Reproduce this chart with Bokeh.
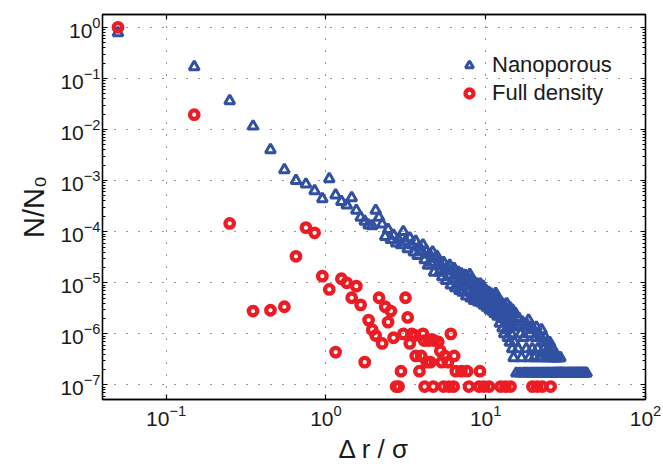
from bokeh.plotting import figure
from bokeh.models import LogAxis, FixedTicker, Legend, LegendItem, Range1d, ColumnDataSource
from bokeh.embed import file_html
from bokeh.resources import INLINE

FONT = "Liberation Sans"
BLUE = "#3150a2"
RED = "#ec1c24"
TXT = "#1a1a1a"

# ---- data ----
x_ticks = [0.1, 1, 10, 100]
y_ticks = [1e-7, 1e-6, 1e-5, 1e-4, 1e-3, 1e-2, 1e-1, 1]

nano_x = [0.05, 0.15, 0.25, 0.35, 0.45, 0.55, 0.65, 0.75, 0.85, 0.95,
          1.05, 1.15, 1.25, 1.35, 1.45, 1.55, 1.65, 1.75, 1.85, 1.95,
          2.05, 2.15, 2.25, 2.35, 2.45, 2.55, 2.65, 2.75, 2.85, 2.95,
          3.05, 3.15, 3.25, 3.35, 3.45, 3.55, 3.65, 3.75, 3.85, 3.95,
          4.05, 4.15, 4.25, 4.35, 4.45, 4.55, 4.65, 4.75, 4.85, 4.95,
          5.05, 5.15, 5.25, 5.35, 5.45, 5.55, 5.65, 5.75, 5.85, 5.95,
          6.05, 6.15, 6.25, 6.35, 6.45, 6.55, 6.65, 6.75, 6.85, 6.95,
          7.05, 7.15, 7.25, 7.35, 7.45, 7.55, 7.65, 7.75, 7.85, 7.95,
          8.05, 8.15, 8.25, 8.35, 8.45, 8.55, 8.65, 8.75, 8.85, 8.95,
          9.05, 9.15, 9.25, 9.35, 9.45, 9.55, 9.65, 9.75, 9.85, 9.95,
          10.05, 10.15, 10.25, 10.35, 10.45, 10.55, 10.65, 10.75, 10.85, 10.95,
          11.05, 11.15, 11.25, 11.35, 11.45, 11.55, 11.65, 11.75, 11.85, 11.95,
          12.05, 12.15, 12.25, 12.35, 12.45, 12.55, 12.65, 12.75, 12.85, 12.95,
          13.05, 13.15, 13.25, 13.35, 13.45, 13.55, 13.65, 13.75, 13.85, 13.95,
          14.05, 14.15, 14.25, 14.35, 14.45, 14.55, 14.65, 14.75, 14.85, 14.95,
          15.15, 15.35, 15.55, 15.75, 15.95, 16.15, 16.35, 16.55, 16.75, 16.95,
          17.15, 17.35, 17.55, 17.75, 17.95, 18.15, 18.35, 18.55, 18.75, 18.95,
          19.15, 19.35, 19.55, 19.75, 19.95, 20.15, 20.35, 20.55, 20.75, 20.95,
          21.15, 21.35, 21.55, 21.75, 21.95, 22.15, 22.35, 22.55, 22.75, 22.95,
          23.15, 23.35, 23.55, 23.75, 23.95, 24.15, 24.35, 24.55, 24.75, 24.95,
          25.15, 25.35, 25.55, 25.75, 25.95, 26.15, 26.35, 26.55, 26.75, 26.95,
          27.15, 27.35, 27.55, 27.75, 27.95, 28.15, 28.35, 28.55, 28.75, 28.95,
          29.15, 29.35, 29.55, 29.75, 29.95,
          30.3, 30.8, 31.3, 31.8, 32.3, 32.8, 33.3, 33.8, 34.3, 34.8,
          35.3, 35.8, 36.3, 36.8, 37.3, 37.8, 38.3, 38.8, 39.3, 39.8,
          40.3, 40.8, 41.3, 41.8, 42.3, 42.8]
nano_y = [0.78, 0.168, 0.0365, 0.0116, 0.0040, 0.00163, 0.00100, 8.5e-4, 6.3e-4, 4.4e-4,
          1.08e-3, 5.2e-4, 3.9e-4, 3.3e-4, 4.6e-4, 2.6e-4, 1.9e-4, 1.6e-4, 1.35e-4, 1.3e-4,
          2.6e-4, 1.9e-4, 1.4e-4, 8.0e-5, 1.1e-4, 7.0e-5, 8.5e-5, 6.0e-5, 6.9e-5, 5.5e-5,
          1.0e-4, 6.5e-5, 4.6e-5, 7.5e-5, 5.5e-5, 4.0e-5, 6.5e-5, 3.4e-5, 5.0e-5, 4.2e-5,
          5.5e-5, 2.8e-5, 4.2e-5, 2.2e-5, 3.6e-5, 2.5e-5, 4.0e-5, 1.6e-5, 3.0e-5, 3.3e-5,
          2.9e-5, 1.6e-5, 2.2e-5, 1.3e-5, 2.5e-5, 1.8e-5, 1.1e-5, 2.0e-5, 1.4e-5, 2.2e-5,
          9.0e-6, 1.7e-5, 1.2e-5, 1.9e-5, 8.0e-6, 1.4e-5, 1.0e-5, 1.6e-5, 7.0e-6, 1.2e-5,
          1.5e-5, 6.5e-6, 1.1e-5, 8.5e-6, 1.4e-5, 5.5e-6, 1.0e-5, 7.0e-6, 1.2e-5, 1.45e-5,
          5.0e-6, 9.0e-6, 1.15e-5, 6.5e-6, 4.5e-6, 1.0e-5, 7.5e-6, 5.5e-6, 9.5e-6, 4.2e-6,
          8.0e-6, 6.0e-6, 9.5e-6, 4.0e-6, 7.0e-6, 5.0e-6, 8.5e-6, 3.6e-6, 6.5e-6, 4.5e-6,
          7.0e-6, 3.3e-6, 5.5e-6, 4.2e-6, 6.5e-6, 3.0e-6, 5.0e-6, 3.8e-6, 6.0e-6, 2.8e-6,
          4.5e-6, 3.4e-6, 5.5e-6, 2.5e-6, 4.0e-6, 6.2e-6, 3.0e-6, 4.8e-6, 2.2e-6, 3.8e-6,
          4.6e-6, 2.6e-6, 1.6e-6, 3.6e-6, 4.2e-6, 2.0e-6, 3.0e-6, 1.3e-6, 3.8e-6, 2.4e-6,
          1.0e-6, 3.4e-6, 1.9e-6, 2.8e-6, 1.2e-6, 3.9e-6, 2.2e-6, 8.5e-7, 3.0e-6, 1.5e-6,
          2.6e-6, 6.8e-7, 3.2e-6, 1.7e-6, 1.0e-6, 2.4e-6, 5.1e-7, 2.9e-6, 1.35e-6, 3.4e-7,
          6.8e-7, 2.5e-6, 1.7e-7, 1.5e-6, 5.1e-7, 2.0e-6, 1.7e-7, 1.0e-6, 3.4e-7, 1.7e-6,
          1.7e-7, 8.5e-7, 1.35e-6, 1.7e-7, 5.1e-7, 1.5e-6, 1.7e-7, 1.85e-6, 3.4e-7, 1.0e-6,
          1.7e-7, 1.35e-6, 5.1e-7, 1.7e-7, 1.2e-6, 3.4e-7, 1.7e-7, 8.5e-7, 1.35e-6, 1.7e-7,
          5.1e-7, 1.0e-6, 1.7e-7, 3.4e-7, 8.5e-7, 1.7e-7, 1.2e-6, 3.4e-7, 1.7e-7, 6.8e-7,
          5.1e-7, 1.7e-7, 8.5e-7, 3.4e-7, 1.7e-7, 6.8e-7, 1.7e-7, 5.1e-7, 3.4e-7, 1.7e-7,
          6.8e-7, 1.7e-7, 3.4e-7, 5.1e-7, 1.7e-7, 3.4e-7, 5.1e-7, 1.7e-7, 3.4e-7, 1.7e-7,
          3.4e-7, 1.7e-7, 3.4e-7, 1.7e-7, 3.4e-7, 1.7e-7, 3.4e-7, 1.7e-7, 1.7e-7, 3.4e-7,
          1.7e-7, 3.4e-7, 1.7e-7, 1.7e-7, 1.7e-7,
          1.7e-7, 1.7e-7, 1.7e-7, 1.7e-7, 1.7e-7, 1.7e-7, 1.7e-7, 1.7e-7, 1.7e-7, 1.7e-7,
          1.7e-7, 1.7e-7, 1.7e-7, 1.7e-7, 1.7e-7, 1.7e-7, 1.7e-7, 1.7e-7, 1.7e-7, 1.7e-7,
          1.7e-7, 1.7e-7, 1.7e-7, 1.7e-7, 1.7e-7, 1.7e-7]

full_x = [0.05, 0.15, 0.25, 0.35, 0.45, 0.55, 0.65, 0.75, 0.85, 0.95,
          1.05, 1.15, 1.25, 1.35, 1.45, 1.55, 1.65, 1.75, 1.85, 1.95,
          2.05, 2.15, 2.25, 2.35, 2.45, 2.55, 2.65, 2.75, 2.85, 2.95,
          3.05, 3.15, 3.25, 3.35, 3.45, 3.6, 3.65, 3.85, 3.95, 4.05,
          4.12, 4.15, 4.28, 4.4, 4.5, 4.6, 4.7, 4.75, 5.05, 5.2,
          5.3, 5.45, 5.55, 5.8, 5.9, 6.05, 6.3, 6.35, 6.5, 7.05,
          7.65, 7.85, 9.1, 9.2, 9.75, 10.5, 12.4, 13.3, 14.3, 19.6,
          21.0, 22.6, 25.5]
full_y = [1.0, 1.95e-2, 1.45e-4, 2.8e-6, 2.9e-6, 3.4e-6, 3.3e-5, 1.2e-4, 9.5e-5, 1.35e-5,
          7.4e-6, 4.4e-7, 1.2e-5, 1.0e-5, 5.1e-6, 8.6e-6, 3.7e-6, 2.8e-7, 1.86e-6, 1.21e-6,
          9.3e-7, 5.1e-6, 6.5e-7, 3.4e-6, 1.7e-6, 2.8e-6, 8.4e-7, 9.3e-8, 9.3e-8, 1.86e-7,
          1.0e-6, 5.1e-6, 2.1e-6, 6.5e-7, 1.0e-6, 9.3e-7, 3.7e-7, 1.86e-7, 3.7e-7, 1.0e-6,
          7.4e-7, 9.3e-8, 2.8e-7, 7.4e-7, 2.8e-7, 7.8e-7, 9.3e-8, 7.4e-7, 7.0e-7, 4.65e-7,
          2.8e-7, 9.3e-8, 3.7e-7, 2.8e-7, 9.3e-8, 1.0e-6, 9.3e-8, 3.7e-7, 1.86e-7, 1.86e-7,
          1.86e-7, 9.3e-8, 9.3e-8, 1.86e-7, 9.3e-8, 9.3e-8, 9.3e-8, 9.3e-8, 9.3e-8, 9.3e-8,
          9.3e-8, 9.3e-8, 9.3e-8]

# ---- figure ----
y_minor = [m * 10.0 ** e for e in range(-8, 1) for m in range(2, 10)]

p = figure(width=663, height=466, x_axis_type="log", y_axis_type="log",
           x_range=Range1d(0.04, 100), y_range=Range1d(5.2e-8, 1.78),
           output_backend="svg", toolbar_location=None,
           min_border_left=102, min_border_right=18, min_border_top=14,
           min_border_bottom=63,
           x_axis_label="\u0394 r / \u03c3", y_axis_label="N/N\u2080")
p.background_fill_color = "white"
p.border_fill_color = "white"
p.outline_line_color = "black"
p.outline_line_width = 1.3

top_ax = LogAxis()
right_ax = LogAxis()
p.add_layout(top_ax, "above")
p.add_layout(right_ax, "right")

for ax in p.xaxis:
    ax.ticker = FixedTicker(ticks=x_ticks, minor_ticks=[])
for ax in p.yaxis:
    ax.ticker = FixedTicker(ticks=y_ticks, minor_ticks=y_minor)
for ax in p.axis:
    ax.axis_line_color = "black"
    ax.axis_line_width = 1.3
    ax.major_tick_in = 5
    ax.major_tick_out = 0
    ax.minor_tick_in = 3
    ax.minor_tick_out = 0
    ax.major_tick_line_color = "black"
    ax.major_tick_line_width = 1.2
    ax.minor_tick_line_color = "black"
    ax.minor_tick_line_width = 1
    ax.major_label_text_font = FONT
    ax.major_label_text_font_size = "21px"
    ax.major_label_text_color = TXT
    ax.axis_label_text_font = FONT
    ax.axis_label_text_font_size = "26px"
    ax.axis_label_text_font_style = "normal"
    ax.axis_label_text_color = TXT

for ax in (top_ax, right_ax):
    ax.major_label_text_font_size = "2px"
    ax.major_label_text_alpha = 0
    ax.major_label_standoff = 0

p.xaxis[0].major_label_standoff = 12
p.xaxis[0].axis_label_standoff = -4
p.yaxis[0].major_label_standoff = 2
p.yaxis[0].axis_label_standoff = 7
p.yaxis[0].axis_label_text_font_size = "29px"

p.xgrid.ticker = FixedTicker(ticks=x_ticks)
p.ygrid.ticker = FixedTicker(ticks=y_ticks)
for g in (p.xgrid, p.ygrid):
    g.grid_line_color = "#333333"
    g.grid_line_width = 1.1
    g.grid_line_dash = "1 11"

src_n = ColumnDataSource(dict(x=nano_x, y=nano_y))
src_f = ColumnDataSource(dict(x=full_x, y=full_y))
r1 = p.scatter("x", "y", source=src_n, marker="triangle", size=10,
               fill_color="white", fill_alpha=0, line_color=BLUE, line_width=3)
r2 = p.scatter("x", "y", source=src_f, marker="circle", size=8.5,
               fill_color="white", fill_alpha=0, line_color=RED, line_width=4.3)

legend = Legend(items=[LegendItem(label="Nanoporous", renderers=[r1]),
                       LegendItem(label="Full density", renderers=[r2])],
                location=(357, 293))
legend.label_text_font = FONT
legend.label_text_font_size = "22px"
legend.label_text_color = TXT
legend.glyph_width = 20
legend.glyph_height = 20
legend.label_standoff = 13
legend.spacing = 2
legend.padding = 5
legend.margin = 0
legend.border_line_color = None
legend.background_fill_alpha = 0
p.add_layout(legend)

open("out.html", "w").write(file_html(p, INLINE))
